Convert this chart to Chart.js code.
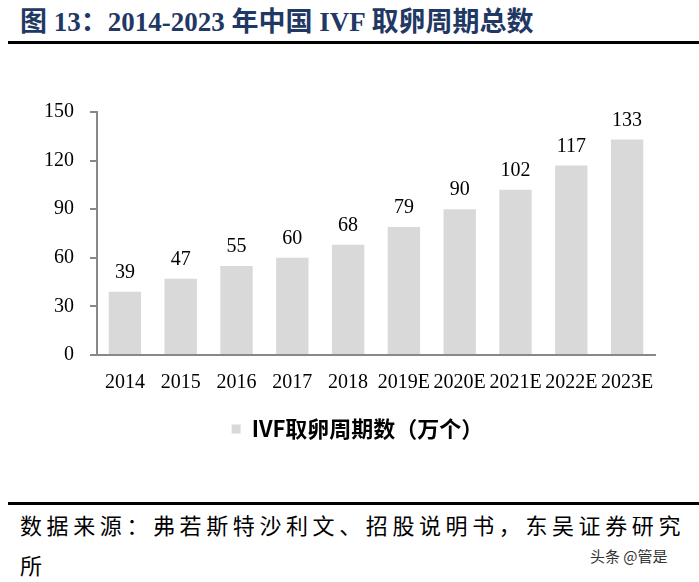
<!DOCTYPE html>
<html>
<head>
<meta charset="utf-8">
<script src="https://cdn.jsdelivr.net/npm/chart.js@4.4.0/dist/chart.umd.min.js"></script>
<style>
  body { margin: 0; width: 699px; height: 582px; background: #fff; position: relative; overflow: hidden; }
  #title { position: absolute; left: 20px; top: 0px; font: bold 27px "Liberation Serif", "Noto Sans CJK SC"; color: #1f3864; white-space: nowrap; }
  .rule { position: absolute; left: 8px; right: 0; height: 3px; background: #000; }
  #chartBox { position: absolute; left: 0; top: 84px; width: 699px; height: 366px; }
  #source { position: absolute; left: 20px; top: 504px; font: 22px "Noto Sans CJK SC"; letter-spacing: 4.6px; line-height: 40px; color: #000; white-space: nowrap; }
  #mark { position: absolute; left: 590px; top: 545px; font: 15px "Noto Sans CJK SC"; color: #333; }
</style>
</head>
<body>
<div id="title">图 13：2014-2023 年中国 IVF 取卵周期总数</div>
<div class="rule" style="top:41px"></div>
<div id="chartBox"><canvas id="barChart"></canvas></div>
<div class="rule" style="top:502px"></div>
<div id="source">数据来源：弗若斯特沙利文、招股说明书，东吴证券研究<br>所</div>
<div id="mark">头条 @管是</div>
<script>
// data
const years = ['2014', '2015', '2016', '2017', '2018', '2019E', '2020E', '2021E', '2022E', '2023E'];
const cycles = [39, 47, 55, 60, 68, 79, 90, 102, 117, 133];
const yTicks = [0, 30, 60, 90, 120, 150];

const numFont = { family: '"Liberation Serif", "Times New Roman", serif', size: 20 };

// value labels above bars
const valueLabels = {
    id: 'valueLabels',
    afterDatasetsDraw(chart) {
        const ctx = chart.ctx;
        const meta = chart.getDatasetMeta(0);
        ctx.save();
        ctx.font = '20px "Liberation Serif", serif';
        ctx.fillStyle = '#000';
        ctx.textAlign = 'center';
        ctx.textBaseline = 'bottom';
        meta.data.forEach((bar, i) => {
            ctx.fillText(cycles[i], bar.x, bar.y - 9);
        });
        ctx.restore();
    }
};

// legend sits a bit right of the canvas centre in the original
const legendShift = {
    id: 'legendShift',
    afterLayout(chart) {
        chart.legend.left += 30;
        chart.legend.right += 30;
    }
};

const barCtx = document.getElementById('barChart').getContext('2d');
const barChart = new Chart(barCtx, {
    type: 'bar',
    data: {
        labels: years,
        datasets: [{
            label: 'IVF取卵周期数（万个）',
            data: cycles,
            backgroundColor: '#d9d9d9',
            categoryPercentage: 1,
            barPercentage: 0.58
        }]
    },
    options: {
        responsive: true,
        maintainAspectRatio: false,
        animation: false,
        layout: { padding: { top: 9, right: 44, left: 0, bottom: 0 } },
        plugins: {
            tooltip: { enabled: false },
            legend: {
                position: 'bottom',
                labels: {
                    boxWidth: 9,
                    boxHeight: 9,
                    padding: 10,
                    color: '#000',
                    font: { family: '"Noto Sans CJK SC", sans-serif', size: 22, weight: 'bold' }
                }
            }
        },
        scales: {
            x: {
                grid: { display: false },
                border: { display: true, color: '#888', width: 2 },
                ticks: { autoSkip: false, maxRotation: 0, color: '#000', font: numFont, padding: 8 },
                afterFit: (scale) => { scale.height = 53; }
            },
            y: {
                min: 0,
                max: 150,
                afterBuildTicks: (scale) => { scale.ticks = yTicks.map(v => ({ value: v })); },
                grid: { drawOnChartArea: false, drawTicks: true, tickLength: 7, color: '#888', lineWidth: 2 },
                border: { display: true, color: '#888', width: 2 },
                ticks: { color: '#000', font: numFont, padding: 16 },
                afterFit: (scale) => { scale.width = 97; }
            }
        }
    },
    plugins: [valueLabels, legendShift]
});
</script>
</body>
</html>
